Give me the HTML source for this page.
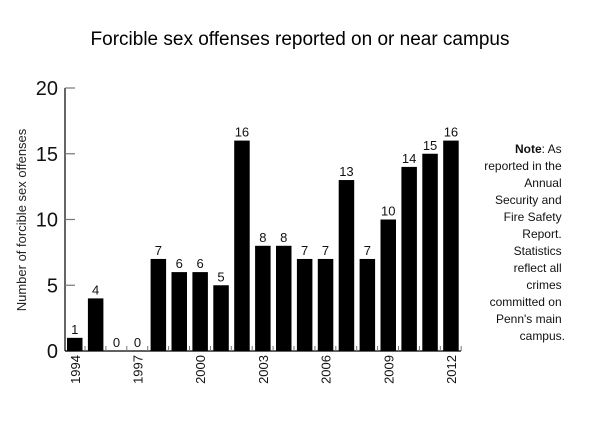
<!DOCTYPE html>
<html><head><meta charset="utf-8"><style>
body{margin:0;background:#fff;font-family:"Liberation Sans",sans-serif;}
svg text{font-family:"Liberation Sans",sans-serif;}
</style></head><body>
<svg width="600" height="420" xmlns="http://www.w3.org/2000/svg">
<text x="300" y="45" text-anchor="middle" font-size="19">Forcible sex offenses reported on or near campus</text>
<g id="yax"></g>
<g id="bars"></g>
<g id="xax"></g>
<text transform="translate(26,220) rotate(-90)" text-anchor="middle" font-size="13" fill="#222">Number of forcible sex offenses</text>
<text text-anchor="end" font-size="12" fill="#111">
<tspan x="565" y="153"><tspan font-weight="bold">Note</tspan>: As</tspan>
<tspan x="565" y="170">reported in the</tspan>
<tspan x="565" y="187">Annual</tspan>
<tspan x="565" y="204">Security and</tspan>
<tspan x="565" y="221">Fire Safety</tspan>
<tspan x="565" y="238">Report.</tspan>
<tspan x="565" y="255">Statistics</tspan>
<tspan x="565" y="272">reflect all</tspan>
<tspan x="565" y="289">crimes</tspan>
<tspan x="565" y="306">committed on</tspan>
<tspan x="565" y="323">Penn's main</tspan>
<tspan x="565" y="340">campus.</tspan>
</text>
</svg>
<script>
const years=[1994,1995,1996,1997,1998,1999,2000,2001,2002,2003,2004,2005,2006,2007,2008,2009,2010,2011,2012];
const values=[1,4,0,0,7,6,6,5,16,8,8,7,7,13,7,10,14,15,16];
const yTicks=[0,5,10,15,20];
const xLabels=[1994,1997,2000,2003,2006,2009,2012];
const NS="http://www.w3.org/2000/svg";
const y0=351,y1=88,x0=67,step=20.9,bw=15.5;
const ys=v=>y0-(v/20)*(y0-y1);
const xs=i=>x0+i*step;
function mk(t,a,p){const e=document.createElementNS(NS,t);for(const k in a)e.setAttribute(k,a[k]);p.appendChild(e);return e;}
const yax=document.getElementById('yax'),bars=document.getElementById('bars'),xax=document.getElementById('xax');
mk('line',{x1:65,y1:y1,x2:65,y2:y0,stroke:'#000','stroke-width':1.2},yax);
yTicks.forEach(t=>{const l=mk('line',{x1:65,y1:ys(t),x2:75,y2:ys(t),stroke:'#777','stroke-width':1.2},yax);

const tx=mk('text',{x:58,y:ys(t)+7,'text-anchor':'end','font-size':20,fill:'#111'},yax);tx.textContent=t;
});
mk('line',{x1:65,y1:y0,x2:461,y2:y0,stroke:'#000','stroke-width':1.2},xax);
years.forEach((yr,i)=>{
const r=mk('rect',{x:xs(i),y:ys(values[i]),width:bw,height:y0-ys(values[i]),fill:'#000'},bars);

const t=mk('text',{x:xs(i)+bw/2,y:ys(values[i])-4,'text-anchor':'middle','font-size':13,fill:'#111'},bars);t.textContent=values[i];

const tk=mk('line',{x1:xs(i)+bw+2.5,y1:y0-5,x2:xs(i)+bw+2.5,y2:y0,stroke:'#777','stroke-width':1},xax);

if(xLabels.includes(yr)){const xl=mk('text',{transform:`translate(${xs(i)+bw/2+5},${y0+4}) rotate(-90)`,'text-anchor':'end','font-size':13,fill:'#111'},xax);xl.textContent=yr;
}
});
</script>
</body></html>
